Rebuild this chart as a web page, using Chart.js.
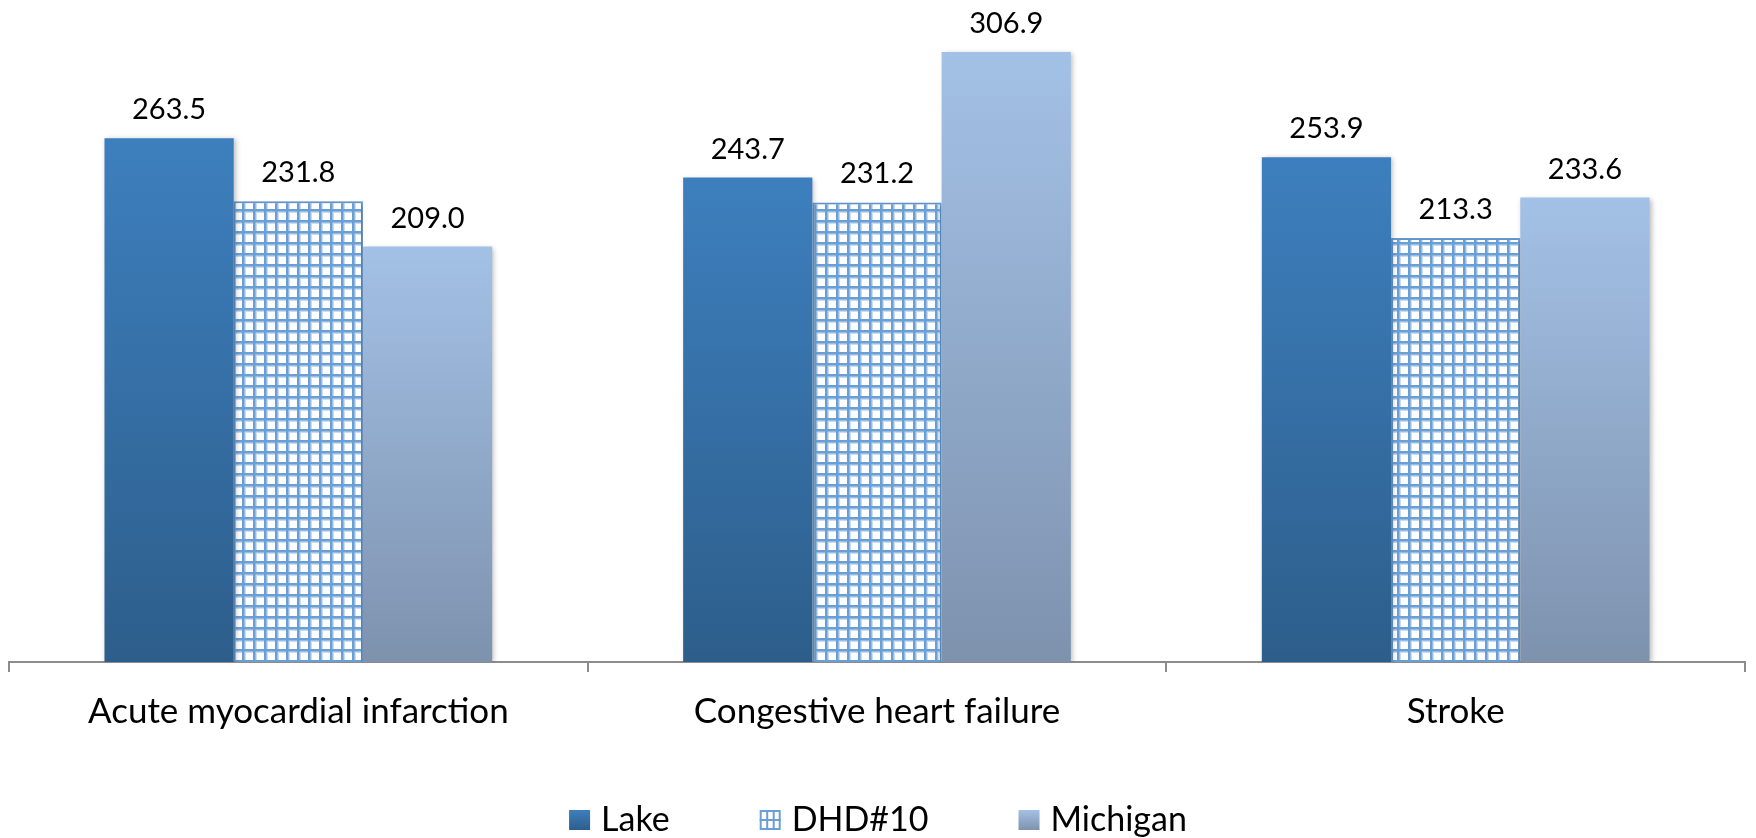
<!DOCTYPE html>
<html>
<head>
<meta charset="utf-8">
<script src="https://cdn.jsdelivr.net/npm/chart.js@4"></script>
<style>
    html, body { margin: 0; padding: 0; background: #ffffff; }
    #wrap { width: 1756px; height: 838px; }
</style>
</head>
<body>
<div id="wrap"><canvas id="chart"></canvas></div>
<script>
const categories = ['Acute myocardial infarction', 'Congestive heart failure', 'Stroke'];
const lakeValues = [263.5, 243.7, 253.9];
const dhdValues = [231.8, 231.2, 213.3];
const michiganValues = [209.0, 306.9, 233.6];
const seriesNames = ['Lake', 'DHD#10', 'Michigan'];

const FONT = 'Lato, "Open Sans", sans-serif';

const lakeTop = '#3d7fbe';
const lakeBottom = '#2d5e8b';
const michTop = '#a3c1e6';
const michBottom = '#7e92ae';
const gridBlue = '#6a9fd6';

function makeGridPattern() {
    let c = document.createElement('canvas');
    c.width = 11;
    c.height = 11;
    let g = c.getContext('2d');
    g.fillStyle = '#ffffff';
    g.fillRect(0, 0, 11, 11);
    g.fillStyle = '#c9dcf0';
    g.fillRect(0, 0, 11, 5);
    g.fillRect(0, 0, 5, 11);
    g.fillStyle = '#ffffff';
    g.fillRect(4, 4, 7, 7);
    g.fillStyle = gridBlue;
    g.fillRect(0, 0, 11, 2.5);
    g.fillRect(0, 0, 2.5, 11);
    return g.createPattern(c, 'repeat');
}

// gradient runs from each bar's own top down to the axis
function barGradient(top, bottom) {
    return function (context) {
        let chart = context.chart;
        let area = chart.chartArea;
        if (!area || context.raw === undefined) {
            return top;
        }
        let y = chart.scales.y.getPixelForValue(context.raw);
        let grad = chart.ctx.createLinearGradient(0, y, 0, area.bottom);
        grad.addColorStop(0, top);
        grad.addColorStop(1, bottom);
        return grad;
    };
}

const valueLabels = {
    id: 'valueLabels',
    afterDatasetsDraw(chart) {
        let ctx = chart.ctx;
        ctx.save();
        ctx.fillStyle = '#000000';
        ctx.font = '29px ' + FONT;
        ctx.textAlign = 'center';
        ctx.textBaseline = 'alphabetic';
        chart.data.datasets.forEach((ds, i) => {
            chart.getDatasetMeta(i).data.forEach((bar, j) => {
                ctx.fillText(ds.data[j].toFixed(1), bar.x, bar.y - 19);
            });
        });
        ctx.restore();
    }
};

const barShadow = {
    id: 'barShadow',
    beforeDatasetsDraw(chart) {
        let ctx = chart.ctx;
        ctx.save();
        ctx.shadowColor = 'rgba(0,0,0,0.25)';
        ctx.shadowBlur = 5;
        ctx.shadowOffsetX = 2;
        ctx.shadowOffsetY = 1;
    },
    afterDatasetsDraw(chart) {
        chart.ctx.restore();
    }
};

// legend drawn by hand so the item spacing can differ from the vertical padding
const bottomLegend = {
    id: 'bottomLegend',
    afterDraw(chart) {
        let ctx = chart.ctx;
        let boxW = 21, boxH = 20, textGap = 11, itemGap = 90;
        let baseline = 831;
        ctx.save();
        ctx.font = '34px ' + FONT;
        let widths = seriesNames.map(name => ctx.measureText(name).width);
        let total = 0;
        widths.forEach((w, i) => {
            total += boxW + textGap + w + (i < widths.length - 1 ? itemGap : 0);
        });
        let x = (chart.width - total) / 2;
        let boxTop = 810;
        seriesNames.forEach((name, i) => {
            if (i === 0 || i === 2) {
                let grad = ctx.createLinearGradient(0, boxTop, 0, boxTop + boxH);
                grad.addColorStop(0, i === 0 ? lakeTop : michTop);
                grad.addColorStop(1, i === 0 ? lakeBottom : michBottom);
                ctx.fillStyle = grad;
                ctx.fillRect(x, boxTop, boxW, boxH);
            } else {
                ctx.fillStyle = '#ffffff';
                ctx.fillRect(x, boxTop, boxW, boxH);
                ctx.strokeStyle = gridBlue;
                ctx.lineWidth = 2;
                ctx.strokeRect(x + 1, boxTop + 1, boxW - 2, boxH - 2);
                ctx.beginPath();
                ctx.moveTo(x + 7.5, boxTop); ctx.lineTo(x + 7.5, boxTop + boxH);
                ctx.moveTo(x + 14, boxTop); ctx.lineTo(x + 14, boxTop + boxH);
                ctx.moveTo(x, boxTop + 10); ctx.lineTo(x + boxW, boxTop + 10);
                ctx.stroke();
            }
            ctx.fillStyle = '#000000';
            ctx.textAlign = 'left';
            ctx.textBaseline = 'alphabetic';
            ctx.fillText(name, x + boxW + textGap, baseline);
            x += boxW + textGap + widths[i] + itemGap;
        });
        ctx.restore();
    }
};

const gridPattern = makeGridPattern();

new Chart(document.getElementById('chart'), {
    type: 'bar',
    data: {
        labels: categories,
        datasets: [
            {
                label: seriesNames[0],
                data: lakeValues,
                backgroundColor: barGradient(lakeTop, lakeBottom),
                borderWidth: 0
            },
            {
                label: seriesNames[1],
                data: dhdValues,
                backgroundColor: gridPattern,
                borderColor: gridBlue,
                borderWidth: 2
            },
            {
                label: seriesNames[2],
                data: michiganValues,
                backgroundColor: barGradient(michTop, michBottom),
                borderWidth: 0
            }
        ]
    },
    options: {
        responsive: true,
        maintainAspectRatio: false,
        animation: false,
        layout: { padding: { left: 9, right: 11, top: 0, bottom: 86 } },
        datasets: {
            bar: { categoryPercentage: 0.67, barPercentage: 1.0 }
        },
        scales: {
            x: {
                grid: {
                    offset: true,
                    drawOnChartArea: false,
                    color: '#8c8c8c',
                    lineWidth: 2,
                    tickLength: 10
                },
                border: { color: '#8c8c8c', width: 2 },
                ticks: {
                    color: '#000000',
                    font: { family: FONT, size: 35 },
                    padding: 19
                }
            },
            y: {
                display: false,
                min: 0,
                max: 333
            }
        },
        plugins: {
            legend: { display: false },
            tooltip: { enabled: false }
        }
    },
    plugins: [barShadow, valueLabels, bottomLegend]
});
</script>
</body>
</html>
